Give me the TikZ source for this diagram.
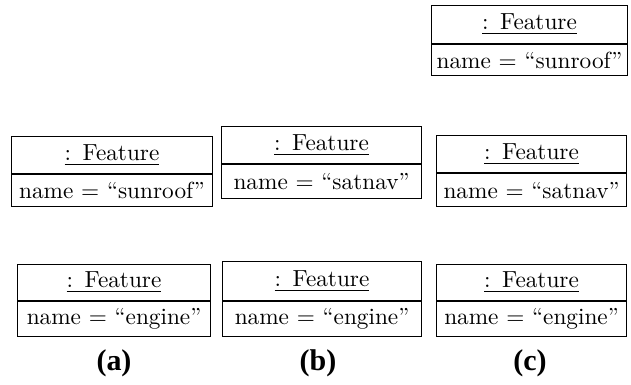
\documentclass[tikz,border=0pt]{standalone}
\usepackage{fontspec}
\newfontfamily\capfont{Liberation Serif}[BoldFont={Liberation Serif Bold}]
\begin{document}
\begin{tikzpicture}[x=0.4167pt, y=-0.4167pt,
  part/.style={draw, line width=0.45pt, rectangle, inner sep=0pt, font=\fontsize{9.7}{11.6}\selectfont},
  caption/.style={inner sep=0pt, font=\capfont\bfseries\fontsize{12.5}{14}\selectfont}]
\useasboundingbox (0,0) rectangle (631,384);
% #1 name, #2 x1, #3 y1, #4 x2, #5 ydiv, #6 y2, #7 value
\newcommand\featbox[7]{%
  \node[part, anchor=north west, minimum width={(#4-#2)*0.4167pt}, minimum height={(#5-#3)*0.4167pt}] (#1h) at (#2,#3) {\underline{:\ \,Feature}};
  \node[part, anchor=north, minimum width={(#4-#2)*0.4167pt}, minimum height={(#6-#5)*0.4167pt}] (#1v) at (#1h.south) {name = “#7”};
}
\featbox{tr}{431}{5}{627}{43}{74}{sunroof}
\featbox{ra}{11}{136}{212}{173}{205}{sunroof}
\featbox{rb}{221}{126}{421}{163}{197}{satnav}
\featbox{rc}{436}{135}{626}{172}{205}{satnav}
\featbox{sa}{17}{264}{210}{300}{335}{engine}
\featbox{sb}{222}{261}{421}{300}{335}{engine}
\featbox{sc}{436}{264}{626}{300}{335}{engine}
\node[caption] (la) at (114,363) {(a)};
\node[caption] (lb) at (318,363) {(b)};
\node[caption] (lc) at (530,363) {(c)};
\end{tikzpicture}
\end{document}
